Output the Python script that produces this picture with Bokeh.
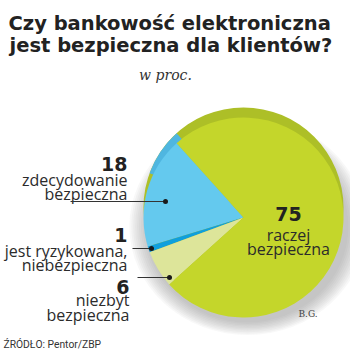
import numpy as np
from bokeh.plotting import figure
from bokeh.models import ColumnDataSource
from bokeh.core.properties import value
from bokeh.embed import file_html
from bokeh.resources import INLINE

# --- data ---
values = [18, 1, 6, 75]
numbers = ["18", "1", "6", "75"]
label_lines = [["zdecydowanie", "bezpieczna"],
               ["jest ryzykowana,", "niebezpieczna"],
               ["niezbyt", "bezpieczna"],
               ["raczej", "bezpieczna"]]
colors = ["#64c9ee", "#0f9fdc", "#dde59a", "#c4d62b"]
title_lines = ["Czy bankowość elektroniczna", "jest bezpieczna dla klientów?"]
subtitle = "w proc."
source_text = "ŹRÓDŁO: Pentor/ZBP"
author = "B.G."

H = 350
def Y(y):
    return H - y

p = figure(width=350, height=350, x_range=(0, 350), y_range=(0, 350),
           output_backend="svg", toolbar_location=None, min_border=0)
p.axis.visible = False
p.grid.visible = False
p.outline_line_color = None
p.background_fill_color = "white"
p.border_fill_color = "white"

cx, cy, r = 243, 217, 100

# shadow
for k in range(10):
    p.ellipse(x=cx + 4, y=Y(cy + 9), width=2 * r + 2 + k * 3.8, height=2 * r - 8 + k * 2.8,
              fill_color="#8c8c8c", fill_alpha=0.06, line_color=None)

# rim (3D thickness)
p.wedge(x=cx, y=Y(cy - 10), radius=r, start_angle=0, end_angle=2 * np.pi,
        fill_color="#adbf27", line_color=None)
p.wedge(x=cx, y=Y(cy - 10), radius=r, start_angle=np.deg2rad(132), end_angle=np.deg2rad(160),
        fill_color="#4fb6e0", line_color=None)

total = sum(values)
start = np.deg2rad(132)
angles = np.cumsum([0] + [v / total * 2 * np.pi for v in values])
src = ColumnDataSource(dict(start=start + angles[:-1], end=start + angles[1:], color=colors))
p.wedge(x=cx, y=Y(cy), radius=r, start_angle="start", end_angle="end",
        fill_color="color", line_color=None, source=src)

# title
p.text(x=[8, 9], y=[Y(23), Y(45)], text=title_lines, text_font=value("DejaVu Sans"), text_font_style="bold",
       text_font_size="19.5px", text_color="#222222", text_baseline="alphabetic", text_align="left")
p.text(x=[165], y=[Y(74)], text=[subtitle], text_font=value("DejaVu Serif"), text_font_style="italic",
       text_font_size="14px", text_color="#333333", text_baseline="alphabetic", text_align="center")

lfont = value("Open Sans")
lab_color = "#2b2b2b"
# left labels: number baseline, line baselines, right x
left = [(127, 163, [179, 193]), (127, 234, [250, 264]), (129, 286, [299, 314])]
for i, (xr, ynum, ylines) in enumerate(left):
    p.text(x=[xr], y=[Y(ynum)], text=[numbers[i]], text_font=value("DejaVu Sans"), text_font_style="bold",
           text_font_size="19px", text_color="#222222", text_baseline="alphabetic", text_align="right")
    p.text(x=[xr, xr], y=[Y(ylines[0]), Y(ylines[1])], text=label_lines[i], text_font=lfont,
           text_font_size="16px", text_color=lab_color, text_baseline="alphabetic", text_align="right")

# big slice label
p.text(x=[288], y=[Y(213)], text=[numbers[3]], text_font=value("DejaVu Sans"), text_font_style="bold",
       text_font_size="19px", text_color="#222222", text_baseline="alphabetic", text_align="center")
p.text(x=[288, 288], y=[Y(234), Y(248)], text=label_lines[3], text_font=lfont,
       text_font_size="16px", text_color=lab_color, text_baseline="alphabetic", text_align="center")

# leader lines
x0 = [70, 132, 137]
x1 = [165, 151, 169]
yl = [201, 248, 277]
p.segment(x0=x0, y0=[Y(v) for v in yl], x1=x1, y1=[Y(v) for v in yl], line_color="#333333", line_width=1)
p.scatter(x=x1, y=[Y(v) for v in yl], size=5, fill_color="#1a1a1a", line_color=None)

p.text(x=[298], y=[Y(313)], text=[author], text_font=value("DejaVu Serif"),
       text_font_size="9px", text_color="#444444", text_baseline="alphabetic", text_align="left")
p.text(x=[3], y=[Y(344)], text=[source_text], text_font=value("Roboto"),
       text_font_size="10.3px", text_color="#333333", text_baseline="alphabetic", text_align="left")

open("out.html", "w").write(file_html(p, INLINE))
